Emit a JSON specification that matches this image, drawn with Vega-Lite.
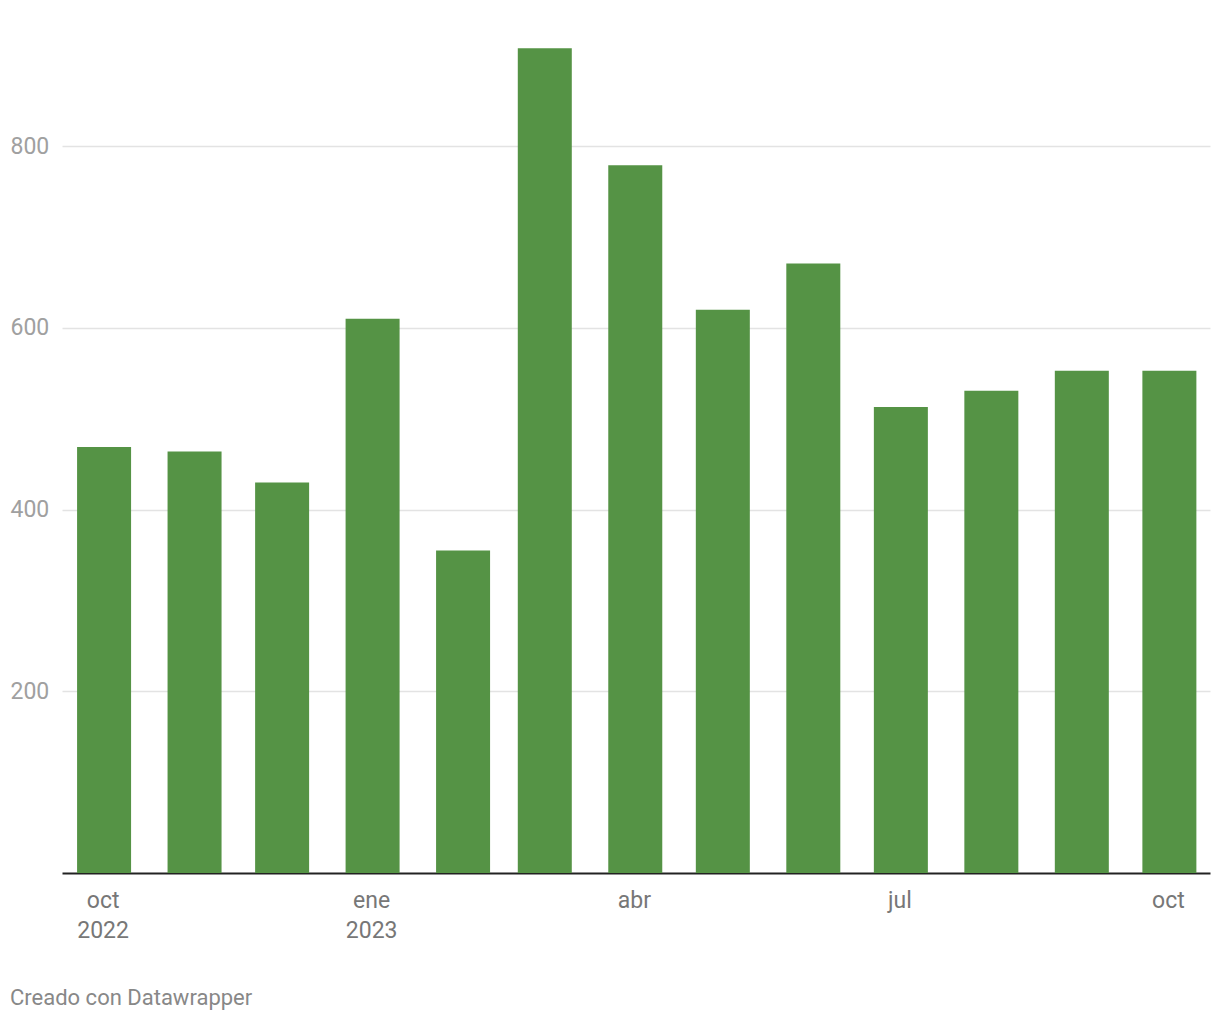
{
  "$schema": "https://vega.github.io/schema/vega-lite/v6.json",
  "autosize": "none",
  "width": 1148,
  "height": 863,
  "padding": {"left": 62, "top": 10, "right": 10, "bottom": 147},
  "background": "white",
  "data": {
    "values": [
      {"mes": "2022-10-01", "valor": 469},
      {"mes": "2022-11-01", "valor": 464},
      {"mes": "2022-12-01", "valor": 430},
      {"mes": "2023-01-01", "valor": 610},
      {"mes": "2023-02-01", "valor": 355},
      {"mes": "2023-03-01", "valor": 908},
      {"mes": "2023-04-01", "valor": 779},
      {"mes": "2023-05-01", "valor": 620},
      {"mes": "2023-06-01", "valor": 671},
      {"mes": "2023-07-01", "valor": 513},
      {"mes": "2023-08-01", "valor": 531},
      {"mes": "2023-09-01", "valor": 553},
      {"mes": "2023-10-01", "valor": 553}
    ]
  },
  "title": {
    "text": "Creado con Datawrapper",
    "orient": "bottom",
    "anchor": "start",
    "frame": "bounds",
    "font": "Roboto",
    "fontSize": 22,
    "fontWeight": "normal",
    "color": "#888888",
    "offset": 46
  },
  "mark": {"type": "bar", "width": 54, "color": "#559345"},
  "encoding": {
    "x": {
      "field": "mes",
      "type": "temporal",
      "timeUnit": "utcyearmonthdate",
      "scale": {"type": "utc", "domain": [{"year": 2022, "month": 9, "date": 17, "hours": 2, "utc": true}, {"year": 2023, "month": 10, "date": 15, "hours": 10, "utc": true}]},
      "axis": {
        "title": null,
        "values": [
          {"year": 2022, "month": 10, "date": 1, "utc": true},
          {"year": 2023, "month": 1, "date": 1, "utc": true},
          {"year": 2023, "month": 4, "date": 1, "utc": true},
          {"year": 2023, "month": 7, "date": 1, "utc": true},
          {"year": 2023, "month": 10, "date": 1, "utc": true}
        ],
        "labelExpr": "(utcmonth(datum.value) == 0 || utcyear(datum.value) == 2022) ? [(['ene','feb','mar','abr','may','jun','jul','ago','sep','oct','nov','dic'])[utcmonth(datum.value)], '' + utcyear(datum.value)] : (['ene','feb','mar','abr','may','jun','jul','ago','sep','oct','nov','dic'])[utcmonth(datum.value)]",
        "grid": false,
        "ticks": false,
        "domain": true,
        "domainColor": "#222222",
        "domainWidth": 2,
        "labelFont": "Roboto",
        "labelFontSize": 23,
        "labelColor": "#777777",
        "labelPadding": 16,
        "labelLineHeight": 30,
        "labelFlush": false,
        "labelOverlap": false
      }
    },
    "y": {
      "field": "valor",
      "type": "quantitative",
      "scale": {"domain": [0, 950], "nice": false},
      "axis": {
        "title": null,
        "values": [200, 400, 600, 800],
        "grid": true,
        "gridColor": "#e3e3e3",
        "gridWidth": 1.5,
        "ticks": false,
        "domain": false,
        "labelAlign": "left",
        "labelPadding": 52,
        "labelFont": "Roboto",
        "labelFontSize": 23,
        "labelColor": "#a0a0a0",
        "labelBaseline": "middle"
      }
    }
  },
  "config": {"view": {"stroke": null}}
}
